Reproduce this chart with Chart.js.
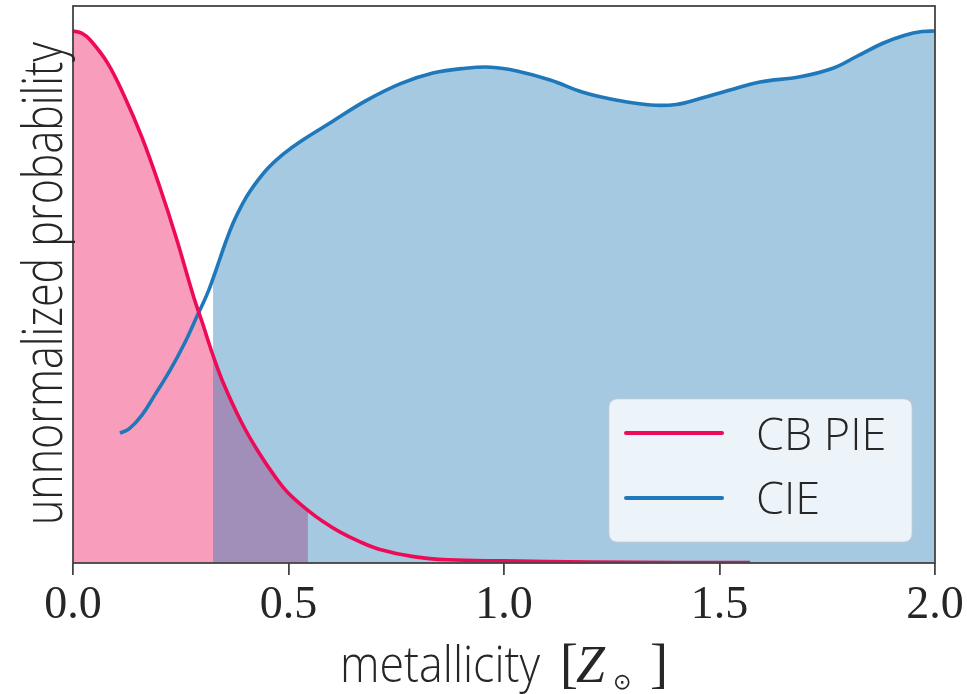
<!DOCTYPE html>
<html>
<head>
<meta charset="utf-8">
<script src="https://cdn.jsdelivr.net/npm/chart.js@4.4.1/dist/chart.umd.min.js"></script>
<style>
  html, body { margin: 0; padding: 0; background: #ffffff; overflow: hidden; }
  canvas { display: block; }
</style>
</head>
<body>
<canvas id="chart" width="967" height="694"></canvas>
<script>
// Probability curves against metallicity (in solar units)
const pieX = [0, 0.02, 0.04, 0.08, 0.12, 0.16, 0.20, 0.24, 0.28, 0.30, 0.325, 0.35, 0.39, 0.43, 0.47, 0.50, 0.545,
              0.58, 0.62, 0.66, 0.71, 0.79, 0.87, 1.0, 1.2, 1.4, 1.571];
const pieY = [1.0, 0.996, 0.983, 0.94, 0.876, 0.80, 0.71, 0.61, 0.50, 0.452, 0.39, 0.336, 0.266, 0.209, 0.161, 0.131, 0.099,
              0.078, 0.058, 0.042, 0.026, 0.012, 0.006, 0.004, 0.002, 0.001, 0.001];

const cieX = [0.109, 0.13, 0.16, 0.19, 0.225, 0.26, 0.29, 0.31, 0.325, 0.34, 0.355, 0.372, 0.39, 0.41, 0.45, 0.49,
              0.527, 0.60, 0.68, 0.76, 0.835, 0.91, 0.97, 1.03, 1.107, 1.183, 1.262, 1.34, 1.40, 1.455, 1.52,
              1.594, 1.687, 1.763, 1.82, 1.879, 1.93, 1.97, 2.0];
const cieY = [0.244, 0.252, 0.278, 0.316, 0.362, 0.415, 0.468, 0.503, 0.535, 0.57, 0.605, 0.64, 0.67, 0.698, 0.74, 0.77,
              0.792, 0.829, 0.869, 0.901, 0.921, 0.930, 0.932, 0.925, 0.908, 0.885, 0.870, 0.861, 0.862, 0.873, 0.888,
              0.904, 0.914, 0.930, 0.953, 0.977, 0.992, 0.999, 1.0];

// Shaded ranges: CB PIE shaded up to pieShadeEnd, CIE shaded from cieShadeStart
const pieShadeEnd = 0.545;
const cieShadeStart = 0.325;

const xTicks = [0.0, 0.5, 1.0, 1.5, 2.0];
const seriesNames = ['CB PIE', 'CIE'];
const xTitleWord = 'metallicity';
const yTitleText = 'unnormalized probability';

const PINK = '#ef0a57';
const PINK_FILL = 'rgba(239, 10, 87, 0.4)';
const BLUE = '#1f78b9';
const BLUE_FILL = 'rgba(31, 119, 180, 0.4)';
const FRAME = '#444444';
const TEXT = '#262626';
const SANS = '"Open Sans"';

function points(xs, ys, lo, hi) {
  const out = [];
  for (let i = 0; i < xs.length; i++) {
    if (xs[i] >= lo && xs[i] <= hi) out.push({ x: xs[i], y: ys[i] });
  }
  return out;
}

const pieLine = points(pieX, pieY, -Infinity, Infinity);
const cieLine = points(cieX, cieY, -Infinity, Infinity);
const pieBand = points(pieX, pieY, -Infinity, pieShadeEnd);
const cieBand = points(cieX, cieY, cieShadeStart, Infinity);

// Draws the plot frame, axis titles and the legend box
const decorations = {
  id: 'decorations',
  afterDraw(chart) {
    const ctx = chart.ctx;
    const a = chart.chartArea;
    ctx.save();

    // frame
    ctx.strokeStyle = FRAME;
    ctx.lineWidth = 1.8;
    ctx.strokeRect(a.left, a.top, a.right - a.left, a.bottom - a.top);

    // y title (rotated)
    ctx.fillStyle = TEXT;
    ctx.save();
    ctx.translate(62, (a.top + a.bottom) / 2 - 1);
    ctx.rotate(-Math.PI / 2);
    ctx.font = '300 56px ' + SANS;
    const yw = ctx.measureText(yTitleText).width;
    ctx.scale(483 / yw, 1);
    ctx.textAlign = 'center';
    ctx.textBaseline = 'alphabetic';
    ctx.fillText(yTitleText, 0, 0);
    ctx.restore();

    // x title: "metallicity [Z⊙ ]"
    const base = 682;
    ctx.save();
    ctx.font = '300 50px ' + SANS;
    const mw = ctx.measureText(xTitleWord).width;
    ctx.translate(340, base);
    ctx.scale(200 / mw, 1);
    ctx.textAlign = 'left';
    ctx.textBaseline = 'alphabetic';
    ctx.fillText(xTitleWord, 0, 0);
    ctx.restore();
    ctx.textAlign = 'left';
    ctx.textBaseline = 'alphabetic';
    ctx.font = '54px "Liberation Serif"';
    ctx.fillText('[', 560, base);
    ctx.font = 'italic 52px "Liberation Serif"';
    ctx.fillText('Z', 576, base);
    ctx.font = '22px "DejaVu Sans"';
    ctx.textBaseline = 'middle';
    ctx.fillText('\u2299', 613, base + 1);
    ctx.textBaseline = 'alphabetic';
    ctx.font = '54px "Liberation Serif"';
    ctx.fillText(']', 650, base);

    // legend
    const lx = a.right - 326, ly = a.bottom - 164, lw = 303, lh = 143;
    ctx.beginPath();
    ctx.roundRect(lx, ly, lw, lh, 8);
    ctx.fillStyle = 'rgba(255, 255, 255, 0.8)';
    ctx.fill();
    ctx.strokeStyle = 'rgba(204, 204, 204, 0.8)';
    ctx.lineWidth = 1;
    ctx.stroke();

    const entries = [
      { label: seriesNames[0], color: PINK, y: ly + 34, base: ly + 51 },
      { label: seriesNames[1], color: BLUE, y: ly + 99, base: ly + 115 }
    ];
    ctx.lineCap = 'round';
    ctx.font = '300 45px ' + SANS;
    for (const e of entries) {
      ctx.strokeStyle = e.color;
      ctx.lineWidth = 4;
      ctx.beginPath();
      ctx.moveTo(lx + 17, e.y);
      ctx.lineTo(lx + 113, e.y);
      ctx.stroke();
      ctx.fillStyle = TEXT;
      ctx.fillText(e.label, lx + 147, e.base);
    }
    ctx.restore();
  }
};

const curveStyle = { pointRadius: 0, tension: 0.4 };

new Chart(document.getElementById('chart').getContext('2d'), {
  type: 'line',
  data: {
    datasets: [
      { ...curveStyle, label: seriesNames[0], data: pieLine, borderColor: PINK, borderWidth: 3.6, fill: false },
      { ...curveStyle, label: seriesNames[1], data: cieLine, borderColor: BLUE, borderWidth: 3.6, fill: false },
      { ...curveStyle, label: 'CIE band', data: cieBand, borderColor: 'rgba(0,0,0,0)', borderWidth: 1,
        backgroundColor: BLUE_FILL, fill: 'origin' },
      { ...curveStyle, label: 'CB PIE band', data: pieBand, borderColor: 'rgba(0,0,0,0)', borderWidth: 1,
        backgroundColor: PINK_FILL, fill: 'origin' }
    ]
  },
  options: {
    responsive: false,
    animation: false,
    events: [],
    layout: { padding: { top: 6, right: 32, left: 0, bottom: 0 } },
    plugins: {
      legend: { display: false },
      tooltip: { enabled: false },
      filler: { drawTime: 'beforeDatasetsDraw', propagate: false }
    },
    scales: {
      x: {
        type: 'linear',
        min: 0,
        max: 2,
        afterFit(scale) { scale.height = 131; },
        afterBuildTicks(scale) { scale.ticks = xTicks.map(v => ({ value: v })); },
        ticks: {
          font: { family: '"Liberation Serif"', size: 46 },
          color: TEXT,
          padding: 3,
          maxRotation: 0,
          autoSkip: false,
          callback: v => Number(v).toFixed(1)
        },
        grid: { drawOnChartArea: false, drawTicks: true, tickLength: 12, color: FRAME, lineWidth: 1.8 },
        border: { display: false }
      },
      y: {
        type: 'linear',
        min: 0,
        max: 1.047,
        afterFit(scale) { scale.width = 73; },
        ticks: { display: false },
        grid: { display: false },
        border: { display: false }
      }
    }
  },
  plugins: [decorations]
});
</script>
</body>
</html>
